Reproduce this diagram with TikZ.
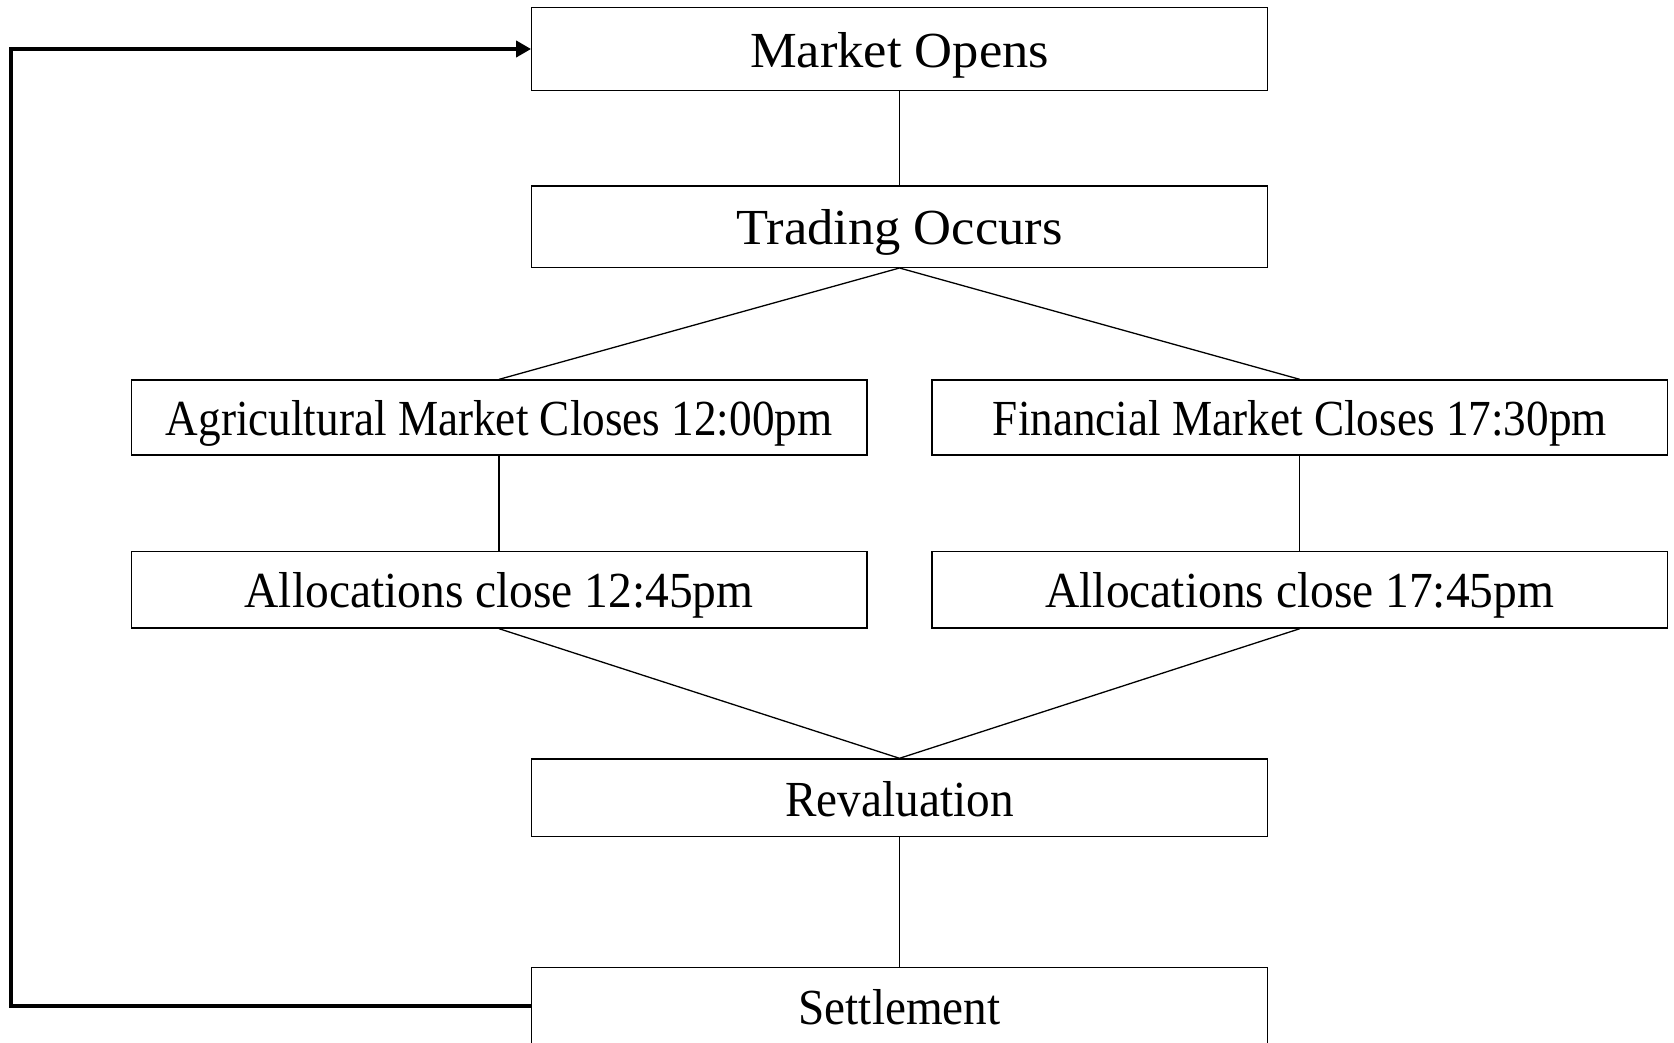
\documentclass[tikz,border=0pt]{standalone}
\usepackage{fontspec}
\usepackage{graphicx}
\setmainfont{Liberation Serif}
\usetikzlibrary{arrows.meta}
\tikzset{
  box/.style={draw, line width=1.3pt, inner sep=0pt, align=center,
    minimum width=735.5pt, font=\fontsize{50.5}{58}\selectfont,
    text height=36.5pt, text depth=0pt},
  link/.style={line width=1.3pt},
  loop/.style={line width=4pt, -{Triangle[length=15pt,width=16pt]}}
}
\newcommand{\hs}[2]{\scalebox{#1}[1]{#2}}
\begin{document}
\begin{tikzpicture}[x=1pt,y=-1pt]
\clip (0,0) rectangle (1674,1043);
\fill[white] (0,0) rectangle (1674,1043);
\node[box, minimum height=83.4pt] (mo) at (899.5,49) {\hs{1.04}{Market Opens}};
\node[box, minimum height=81.3pt] (to) at (899.5,226.7) {\hs{1.04}{Trading Occurs}};
\node[box, minimum height=75pt] (ag) at (499.1,417.5) {\hs{0.895}{Agricultural Market Closes 12:00pm}};
\node[box, minimum height=75pt] (fi) at (1299.8,417.5) {\hs{0.895}{Financial Market Closes 17:30pm}};
\node[box, minimum height=76.7pt] (al) at (499.1,589.7) {\hs{0.94}{Allocations close 12:45pm}};
\node[box, minimum height=76.7pt] (ar) at (1299.8,589.7) {\hs{0.94}{Allocations close 17:45pm}};
\node[box, minimum height=77.7pt] (rv) at (899.5,797.8) {\hs{0.935}{Revaluation}};
\node[box, minimum height=77.4pt] (st) at (899.5,1006) {\hs{0.935}{Settlement}};
\coordinate (lb) at (10.7,1006);
\coordinate (lt) at (10.7,49);
\draw[link] (mo.south) -- (to.north);
\draw[link] (to.south) -- (ag.north);
\draw[link] (to.south) -- (fi.north);
\draw[link] (ag.south) -- (al.north);
\draw[link] (fi.south) -- (ar.north);
\draw[link] (al.south) -- (rv.north);
\draw[link] (ar.south) -- (rv.north);
\draw[link] (rv.south) -- (st.north);
\draw[loop] (st.west) -- (lb) -- (lt) -- (mo.west);
\end{tikzpicture}
\end{document}
